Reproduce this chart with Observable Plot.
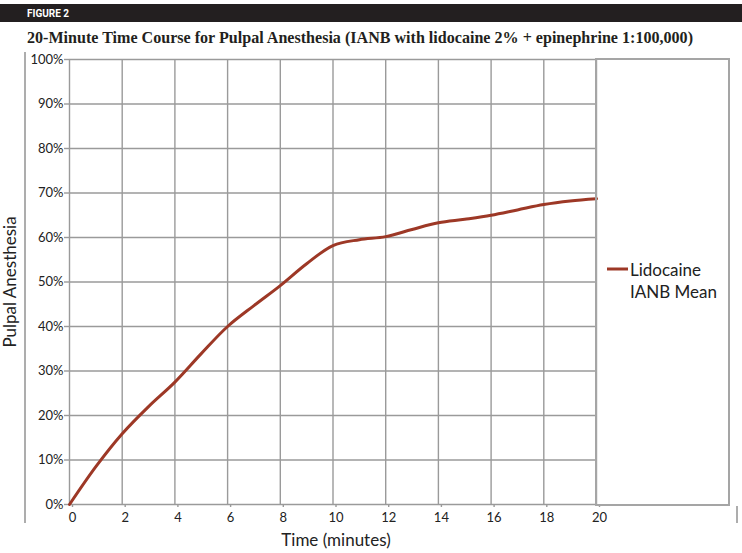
<!DOCTYPE html>
<html>
<head>
<meta charset="utf-8">
<script src="https://cdn.jsdelivr.net/npm/d3@7"></script>
<script src="https://cdn.jsdelivr.net/npm/@observablehq/plot@0.6"></script>
<style>
  html, body { margin: 0; padding: 0; background: #fff; }
  #chart svg { display: block; }
</style>
</head>
<body>
<div id="chart"></div>
<script>
const minutes = [0, 1, 2, 3, 4, 5, 6, 7, 8, 9, 10, 11, 12, 13, 14, 15, 16, 17, 18, 19, 20];
const anesthesia = [0, 8.5, 15.9, 22.0, 27.5, 33.9, 40, 44.7, 49.2, 54.1, 58.2, 59.5, 60.2, 61.8, 63.3, 64.1, 65.0, 66.2, 67.4, 68.2, 68.7];
const xTicks = [0, 2, 4, 6, 8, 10, 12, 14, 16, 18, 20];
const yTicks = [0, 10, 20, 30, 40, 50, 60, 70, 80, 90, 100];
const seriesName = ["Lidocaine", "IANB Mean"];
const figureLabel = "FIGURE 2";
const titleText = "20-Minute Time Course for Pulpal Anesthesia (IANB with lidocaine 2% + epinephrine 1:100,000)";
const xLabel = "Time (minutes)";
const yLabel = "Pulpal Anesthesia";

const data = minutes.map((t, i) => ({t, v: anesthesia[i]}));
const lineColor = "#9d3826";
const gridColor = "#9a9a9a";
const W = 742, H = 553;

const chart = Plot.plot({
  width: W,
  height: H,
  marginLeft: 69,
  marginRight: 146,
  marginTop: 59,
  marginBottom: 49,
  style: {fontFamily: "Lato, sans-serif", fontSize: "13px", color: "#222", background: "#fff"},
  x: {domain: [0, 20]},
  y: {domain: [0, 100]},
  marks: [
    Plot.gridX(xTicks, {stroke: gridColor, strokeOpacity: 1, strokeWidth: 1.4}),
    Plot.gridY(yTicks, {stroke: gridColor, strokeOpacity: 1, strokeWidth: 1.4}),
    Plot.axisY(yTicks, {tickFormat: d => d + "%", tickSize: 5, tickPadding: 1, stroke: gridColor, strokeWidth: 1.4, fill: "#222", fontSize: 13, label: null}),
    Plot.axisX(xTicks, {tickFormat: d => d, tickSize: 3, tickPadding: 5, stroke: gridColor, strokeWidth: 1.4, fill: "#222", fontSize: 13, dx: 3, label: null}),
    Plot.line(data, {x: "t", y: "v", stroke: lineColor, strokeWidth: 3, curve: "catmull-rom"})
  ]
});

document.getElementById("chart").appendChild(chart);

// Decorations
const svg = d3.select(chart);
const deco = svg.append("g").attr("text-anchor", "start");
// header bar
deco.append("rect").attr("x", 0).attr("y", 4).attr("width", W).attr("height", 18).attr("fill", "#231f20");
deco.append("text").attr("x", 27).attr("y", 17).text(figureLabel)
  .attr("fill", "#fff").attr("font-family", "Roboto, sans-serif").attr("font-weight", 700).attr("font-size", 10);
// title
deco.append("text").attr("x", 27).attr("y", 43).text(titleText)
  .attr("fill", "#231f20").attr("font-family", "'Liberation Serif', serif").attr("font-weight", 700)
  .attr("font-size", 16).attr("textLength", 666).attr("lengthAdjust", "spacingAndGlyphs");
// outer frame lines
deco.append("line").attr("x1", 25).attr("x2", 25).attr("y1", 52).attr("y2", 523).attr("stroke", "#8a8a8a").attr("stroke-width", 1.4);
deco.append("line").attr("x1", 737).attr("x2", 737).attr("y1", 506).attr("y2", 523).attr("stroke", "#8a8a8a").attr("stroke-width", 1.4);
// legend box
deco.append("rect").attr("x", 596).attr("y", 59).attr("width", 133).attr("height", 446)
  .attr("fill", "none").attr("stroke", "#a5a5a5").attr("stroke-width", 2);
deco.append("line").attr("x1", 607).attr("x2", 628).attr("y1", 269).attr("y2", 269).attr("stroke", lineColor).attr("stroke-width", 3);
deco.append("text").attr("x", 630).attr("y", 276).text(seriesName[0])
  .attr("fill", "#222").attr("font-family", "Lato, sans-serif").attr("font-size", 17);
deco.append("text").attr("x", 630).attr("y", 298).text(seriesName[1])
  .attr("fill", "#222").attr("font-family", "Lato, sans-serif").attr("font-size", 17);
// axis titles
deco.append("text").attr("x", 336).attr("y", 546).attr("text-anchor", "middle").text(xLabel)
  .attr("fill", "#222").attr("font-family", "Lato, sans-serif").attr("font-size", 17);
deco.append("text").attr("transform", "translate(16,282) rotate(-90)").attr("text-anchor", "middle").text(yLabel)
  .attr("fill", "#222").attr("font-family", "Lato, sans-serif").attr("font-size", 17);
</script>
</body>
</html>
